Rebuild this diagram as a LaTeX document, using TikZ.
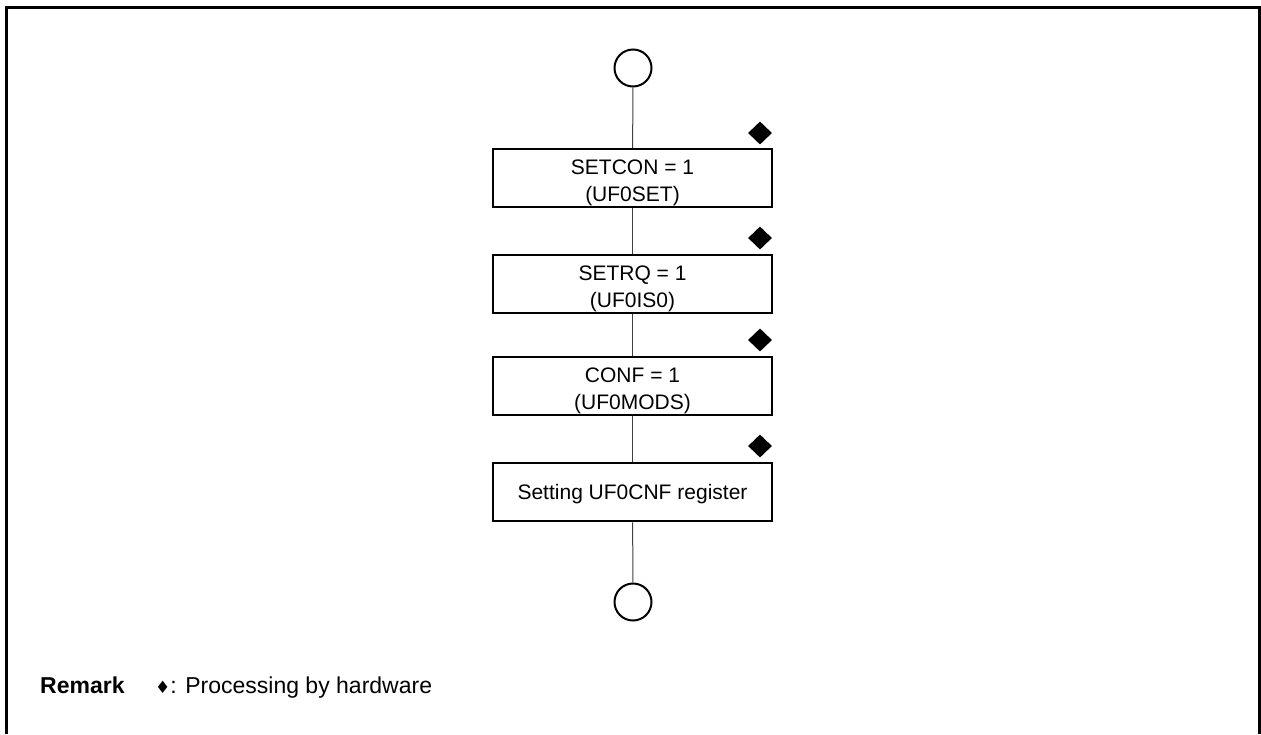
\documentclass[tikz,border=0pt]{standalone}
\usepackage{fontspec}
\setmainfont{Liberation Sans}
\newfontfamily\djv{DejaVu Sans}
\usetikzlibrary{shapes.geometric}
\newcommand{\bxtwo}[2]{\raisebox{4pt}[0pt][0pt]{\begin{tabular}[t]{@{}c@{}}#1\\#2\end{tabular}}}
\newcommand{\bxone}[1]{\raisebox{-7.7pt}[0pt][0pt]{#1}}
\begin{document}
\begin{tikzpicture}[x=1pt,y=-1pt,
  proc/.style={draw, line width=2.5pt, minimum width=279pt, minimum height=58pt, inner sep=0pt, font=\fontsize{21}{27}\selectfont},
  term/.style={circle, draw, line width=2pt, minimum size=37pt, inner sep=0pt},
  hw/.style={diamond, fill=black, minimum width=24pt, minimum height=23pt, inner sep=0pt},
  flow/.style={line width=1pt, black!75},
  frame/.style={line width=2.5pt},
  rem/.style={anchor=base west, inner sep=0pt, font=\fontsize{23}{28}\selectfont}]
\useasboundingbox (0,0) rectangle (1261,734);
\draw[frame] (6.5,734) -- (6.5,7.5) -- (1259.5,7.5) -- (1259.5,734);
\node[term] (s) at (633,68) {};
\node[proc] (b1) at (632.5,178) {\bxtwo{SETCON = 1}{(UF0SET)}};
\node[proc] (b2) at (632.5,284) {\bxtwo{SETRQ = 1}{(UF0IS0)}};
\node[proc] (b3) at (632.5,386) {\bxtwo{CONF = 1}{(UF0MODS)}};
\node[proc] (b4) at (632.5,492) {\bxone{Setting UF0CNF register}};
\node[term] (e) at (633,602) {};
\node[hw] (d1) at (760,133) {};
\node[hw] (d2) at (760,238) {};
\node[hw] (d3) at (760,340) {};
\node[hw] (d4) at (760,446) {};
\draw[flow] (s) -- (b1);
\draw[flow] (b1) -- (b2);
\draw[flow] (b2) -- (b3);
\draw[flow] (b3) -- (b4);
\draw[flow] (b4) -- (e);
\node[rem, font=\bfseries\fontsize{23}{28}\selectfont] (rk) at (40,693) {Remark};
\node[rem] (rt) at (155,693) {{\djv\fontsize{17}{20}\selectfont ♦}: Processing by hardware};
\end{tikzpicture}
\end{document}
